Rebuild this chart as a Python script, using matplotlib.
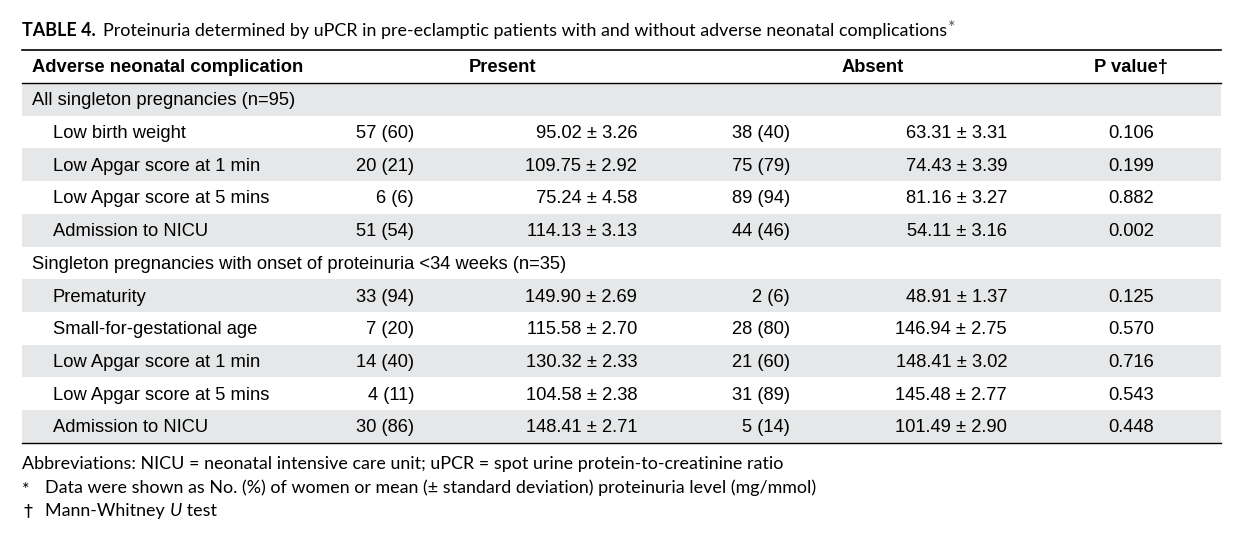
import matplotlib
matplotlib.use('Agg')
import matplotlib.pyplot as plt
from matplotlib.patches import Rectangle

# Table content
title_bold = 'TABLE 4.'
title_rest = 'Proteinuria determined by uPCR in pre-eclamptic patients with and without adverse neonatal complications'
headers = ['Adverse neonatal complication', 'Present', 'Absent', 'P value\u2020']

group1 = 'All singleton pregnancies (n=95)'
group1_rows = ['Low birth weight', 'Low Apgar score at 1 min', 'Low Apgar score at 5 mins', 'Admission to NICU']
group1_present_n = ['57 (60)', '20 (21)', '6 (6)', '51 (54)']
group1_present_mean = ['95.02 \u00b1 3.26', '109.75 \u00b1 2.92', '75.24 \u00b1 4.58', '114.13 \u00b1 3.13']
group1_absent_n = ['38 (40)', '75 (79)', '89 (94)', '44 (46)']
group1_absent_mean = ['63.31 \u00b1 3.31', '74.43 \u00b1 3.39', '81.16 \u00b1 3.27', '54.11 \u00b1 3.16']
group1_p = ['0.106', '0.199', '0.882', '0.002']

group2 = 'Singleton pregnancies with onset of proteinuria <34 weeks (n=35)'
group2_rows = ['Prematurity', 'Small-for-gestational age', 'Low Apgar score at 1 min',
               'Low Apgar score at 5 mins', 'Admission to NICU']
group2_present_n = ['33 (94)', '7 (20)', '14 (40)', '4 (11)', '30 (86)']
group2_present_mean = ['149.90 \u00b1 2.69', '115.58 \u00b1 2.70', '130.32 \u00b1 2.33',
                       '104.58 \u00b1 2.38', '148.41 \u00b1 2.71']
group2_absent_n = ['2 (6)', '28 (80)', '21 (60)', '31 (89)', '5 (14)']
group2_absent_mean = ['48.91 \u00b1 1.37', '146.94 \u00b1 2.75', '148.41 \u00b1 3.02',
                      '145.48 \u00b1 2.77', '101.49 \u00b1 2.90']
group2_p = ['0.125', '0.570', '0.716', '0.543', '0.448']

footnote_abbr = 'Abbreviations: NICU = neonatal intensive care unit; uPCR = spot urine protein-to-creatinine ratio'
footnote_star = 'Data were shown as No. (%) of women or mean (\u00b1 standard deviation) proteinuria level (mg/mmol)'

W, H = 1251, 541
fig = plt.figure(figsize=(W / 100, H / 100), dpi=100)
ax = fig.add_axes([0, 0, 1, 1])
ax.set_xlim(0, W)
ax.set_ylim(H, 0)
ax.axis('off')

body = 'Liberation Sans'
note = 'Lato'
fs = 13.2
nfs = 12.9
gray = '#e6e7e8'

left, right = 22, 1221
top, head_bot = 50, 83
row_h = 32.7
dy = 1.5  # small nudge so text sits like the reference

# build row list: (kind, cells)
rows = [('group', group1)]
for i in range(len(group1_rows)):
    rows.append(('item', [group1_rows[i], group1_present_n[i], group1_present_mean[i],
                          group1_absent_n[i], group1_absent_mean[i], group1_p[i]]))
rows.append(('group', group2))
for i in range(len(group2_rows)):
    rows.append(('item', [group2_rows[i], group2_present_n[i], group2_present_mean[i],
                          group2_absent_n[i], group2_absent_mean[i], group2_p[i]]))

# title
renderer = fig.canvas.get_renderer()
t = ax.text(left, 31, title_bold, fontsize=nfs, family=note, fontweight='bold', va='center', ha='left')
bb = t.get_window_extent(renderer)
t = ax.text(bb.x1 + 7, 31, title_rest, fontsize=nfs, family=note, va='center', ha='left')
bb = t.get_window_extent(renderer)
ax.text(bb.x1 + 1, 28, '*', fontsize=nfs, family=note, va='center', ha='left', color='#555555')

# header
hy = (top + head_bot) / 2 + dy
ax.text(32, hy, headers[0], fontsize=fs, family=body, fontweight='bold', va='center', ha='left')
ax.text(503, hy, headers[1], fontsize=fs, family=body, fontweight='bold', va='center', ha='center')
ax.text(873, hy, headers[2], fontsize=fs, family=body, fontweight='bold', va='center', ha='center')
ax.text(1131, hy, headers[3], fontsize=fs, family=body, fontweight='bold', va='center', ha='center')

# body rows
for i, (kind, cells) in enumerate(rows):
    y0 = head_bot + i * row_h
    yc = y0 + row_h / 2 + dy
    if i % 2 == 0:
        ax.add_patch(Rectangle((left, y0), right - left, row_h, color=gray, lw=0, zorder=0))
    if kind == 'group':
        ax.text(32, yc, cells, fontsize=fs, family=body, va='center', ha='left')
    else:
        ax.text(53, yc, cells[0], fontsize=fs, family=body, va='center', ha='left')
        ax.text(414, yc, cells[1], fontsize=fs, family=body, va='center', ha='right')
        ax.text(637, yc, cells[2], fontsize=fs, family=body, va='center', ha='right')
        ax.text(790, yc, cells[3], fontsize=fs, family=body, va='center', ha='right')
        ax.text(1007, yc, cells[4], fontsize=fs, family=body, va='center', ha='right')
        ax.text(1131, yc, cells[5], fontsize=fs, family=body, va='center', ha='center')

bottom = head_bot + len(rows) * row_h
ax.plot([left, right], [top, top], color='black', lw=1.2)
ax.plot([left, right], [head_bot, head_bot], color='black', lw=1.0)
ax.plot([left, right], [bottom, bottom], color='black', lw=1.0)

# footnotes
ax.text(left, 464, footnote_abbr, fontsize=nfs, family=note, va='center', ha='left')
ax.text(left, 490, '*', fontsize=nfs, family=note, va='center', ha='left')
ax.text(45, 488, footnote_star, fontsize=nfs, family=note, va='center', ha='left')
ax.text(left + 2, 511, '\u2020', fontsize=nfs, family='DejaVu Sans', va='center', ha='left')
t = ax.text(45, 511, 'Mann-Whitney ', fontsize=nfs, family=note, va='center', ha='left')
bb = t.get_window_extent(renderer)
t = ax.text(bb.x1, 511, 'U', fontsize=nfs, family=note, style='italic', va='center', ha='left')
bb = t.get_window_extent(renderer)
ax.text(bb.x1, 511, ' test', fontsize=nfs, family=note, va='center', ha='left')

fig.savefig('out.png', dpi=100)
